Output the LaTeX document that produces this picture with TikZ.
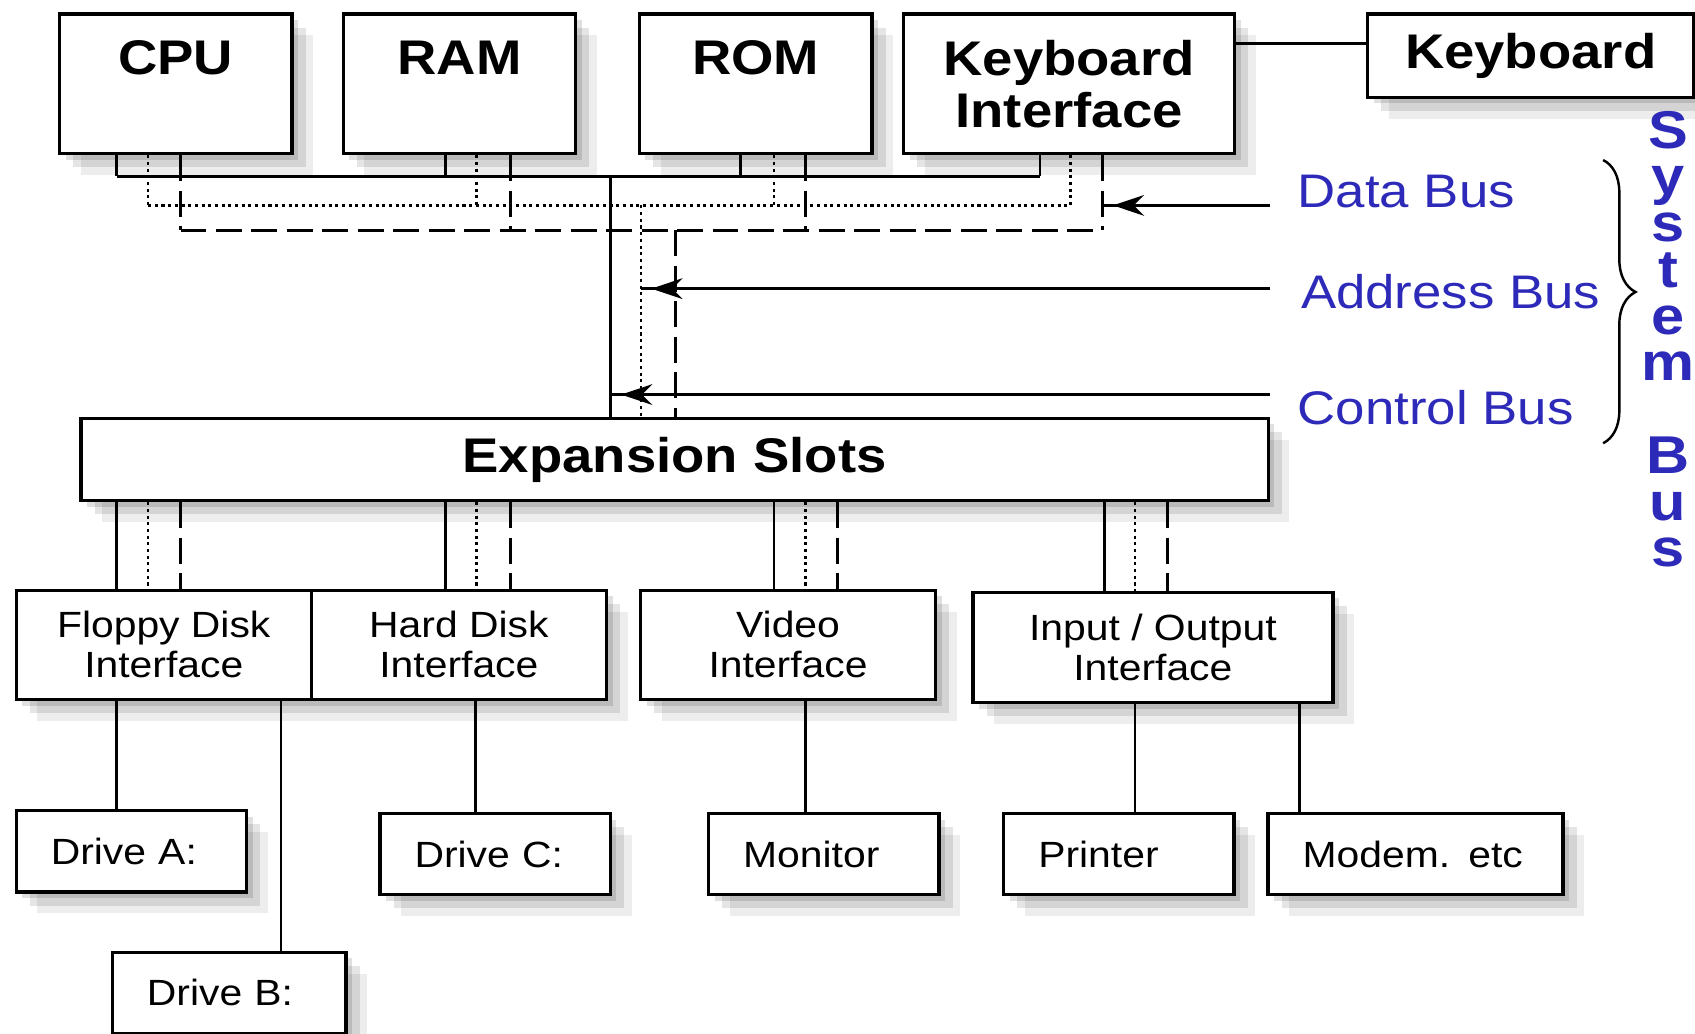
\documentclass[tikz,border=0pt]{standalone}
\usepackage{fontspec}
\setmainfont{Liberation Sans}[FakeStretch=1.12]
\usetikzlibrary{arrows.meta,shadows,decorations.pathreplacing,decorations.markings}
\definecolor{busblue}{RGB}{45,42,185}

\begin{document}
\begin{tikzpicture}[x=0.0125cm,y=-0.0125cm,
    boxshade/.style={general shadow={shadow xshift=2pt,shadow yshift=-2pt,fill=black,opacity=.12},
                     general shadow={shadow xshift=4.5pt,shadow yshift=-4.5pt,fill=black,opacity=.10},
                     general shadow={shadow xshift=7pt,shadow yshift=-7pt,fill=black,opacity=.07}},
    unit/.style={draw,line width=1.1pt,fill=white,inner sep=0pt,align=center,boxshade},
    chip/.style={unit,minimum width=2.6875cm,minimum height=1.6125cm,
                 font=\bfseries\fontsize{16}{17}\selectfont},
    card/.style={unit,minimum width=3.4125cm,minimum height=1.2625cm,
                 font=\fontsize{12}{13.1}\selectfont},
    drive/.style={unit,text width=1.8625cm,inner xsep=0.4cm,minimum height=0.9375cm,
                  align=left,font=\fontsize{12}{13.1}\selectfont},
    ctl/.style={line width=0.9pt},
    addr/.style={line width=0.9pt,dash pattern=on 1pt off 1.2pt},
    data/.style={line width=0.9pt,dash pattern=on 0.3cm off 0.11cm},
    busin/.style={line width=0.9pt,postaction={decorate},
                  decoration={markings,mark=at position -0.12cm with
                  {\arrow{Stealth[length=0.36cm,width=0.24cm,inset=0.12cm]}}}},
    buslbl/.style={text=busblue,anchor=west,inner sep=0pt,font=\fontsize{15.5}{18}\selectfont}]

  \path[use as bounding box,fill=white] (0,0) rectangle (1568,956);

  % boards on the bus
  \node[chip] (cpu) at (162.5,77.5) {CPU\\\phantom{X}};
  \node[chip] (ram) at (425,77.5) {RAM\\\phantom{X}};
  \node[chip] (rom) at (699,77.5) {ROM\\\phantom{X}};
  \node[chip,minimum width=3.825cm] (kbi) at (989,77.5) {Keyboard\\Interface};
  \node[chip,minimum width=3.775cm,minimum height=0.9625cm] (kbd) at (1416,51.5) {Keyboard};

  \node[unit,minimum width=13.725cm,minimum height=0.95cm,
        font=\bfseries\fontsize{16}{18}\selectfont] (slots) at (624,425) {Expansion Slots};

  \node[card] (fdd) at (151.5,596.5) {Floppy Disk\\Interface};
  \node[card] (hdd) at (424.5,596.5) {Hard Disk\\Interface};
  \node[card] (vid) at (729,596.5) {Video\\Interface};
  \node[card,minimum width=4.1625cm,minimum height=1.275cm] (io) at (1066.5,599)
        {Input / Output\\Interface};

  \node[drive] (drva) at (121.5,787.5) {Drive A:};
  \node[drive] (drvc) at (458,790) {Drive C:};
  \node[drive] (mon) at (762,790) {Monitor};
  \node[drive] (prn) at (1035,790) {Printer};
  \node[drive,text width=2.6125cm] (mdm) at (1309.5,790) {Modem. etc};
  \node[drive,text width=1.9cm] (drvb) at (212,918.5) {Drive B:};

  % system bus
  \coordinate (ctlrail) at (0,163);
  \coordinate (addrrail) at (0,190);
  \coordinate (datarail) at (0,213);
  \foreach \a/\b/\c/\n in {108/137/167/cpu,412/441/472/ram,685/716/745/rom,962/990/1020/kbi}{
    \draw[ctl]  (\n.south -| \a,0) -- (\a,0 |- ctlrail);
    \draw[addr] (\n.south -| \b,0) -- (\b,0 |- addrrail);
    \draw[data] (\n.south -| \c,0) -- (\c,0 |- datarail);
  }
  \draw[ctl]  (108,0 |- ctlrail) -- (962,0 |- ctlrail);
  \draw[addr] (137,0 |- addrrail) -- (990,0 |- addrrail);
  \draw[data] (167,0 |- datarail) -- (1020,0 |- datarail);
  \draw[ctl]  (565,0 |- ctlrail) -- (slots.north -| 565,0);
  \draw[addr] (593,0 |- addrrail) -- (slots.north -| 593,0);
  \draw[data] (625,0 |- datarail) -- (slots.north -| 625,0);

  \coordinate (datain) at (1175,190);
  \coordinate (addrin) at (1175,267);
  \coordinate (ctlin) at (1175,365);
  \draw[busin] (datain) -- (1020,0 |- datain);
  \draw[busin] (addrin) -- (593,0 |- addrin);
  \draw[busin] (ctlin) -- (565,0 |- ctlin);

  \node[buslbl] (datalbl) at (1200,177) {Data Bus};
  \node[buslbl] (addrlbl) at (1203,270) {Address Bus};
  \node[buslbl] (ctllbl) at (1200,377) {Control Bus};
  \draw[line width=0.8pt,decorate,decoration={brace,amplitude=0.375cm,aspect=0.466}]
        (1483,148) -- (1483,410);
  \node[text=busblue,font=\bfseries\fontsize{17.5}{15.3}\selectfont,align=center,
        inner sep=0pt,anchor=north] (sysbus) at (1543,102)
        {S\\y\\s\\t\\e\\m\\[15.3pt]B\\u\\s};

  % slots to the cards
  \foreach \a/\b/\c/\n in {108/137/167/fdd,412/441/472/hdd,716/745/775/vid,1022/1050/1080/io}{
    \draw[ctl]  (slots.south -| \a,0) -- (\n.north -| \a,0);
    \draw[addr] (slots.south -| \b,0) -- (\n.north -| \b,0);
    \draw[data] (slots.south -| \c,0) -- (\n.north -| \c,0);
  }

  % cards to the devices
  \draw[ctl] (kbi.east |- 0,40) -- (kbd.west |- 0,40);
  \draw[ctl] (fdd.south -| 108,0) -- (drva.north -| 108,0);
  \draw[ctl] (fdd.south -| 260,0) -- (drvb.north -| 260,0);
  \draw[ctl] (hdd.south -| 440,0) -- (drvc.north -| 440,0);
  \draw[ctl] (vid.south -| 745,0) -- (mon.north -| 745,0);
  \draw[ctl] (io.south -| 1050,0) -- (prn.north -| 1050,0);
  \draw[ctl] (io.south -| 1202,0) -- (mdm.north -| 1202,0);
\end{tikzpicture}
\end{document}
